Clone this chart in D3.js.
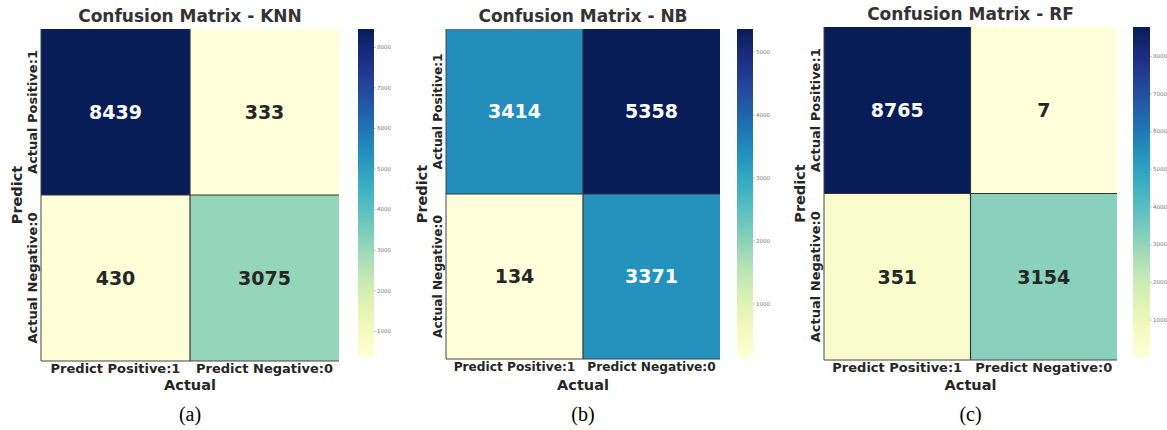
<!DOCTYPE html>
<html>
<head>
<meta charset="utf-8">
<script src="https://cdn.jsdelivr.net/npm/d3@7"></script>
<style>
  body { margin: 0; background: #fff; }
  svg { display: block; }
  .tick-lbl text { font-family: "DejaVu Sans", sans-serif; font-weight: bold; fill: #262626; }
</style>
</head>
<body>
<div id="chart"></div>
<script>
// data
const models = ["KNN", "NB", "RF"];
const panelTags = ["(a)", "(b)", "(c)"];
const predictLabels = ["Predict Positive:1", "Predict Negative:0"];
const actualLabels = ["Actual Positive:1", "Actual Negative:0"];
const knnMatrix = [[8439, 333], [430, 3075]];
const nbMatrix = [[3414, 5358], [134, 3371]];
const rfMatrix = [[8765, 7], [351, 3154]];
const knnBarTicks = [1000, 2000, 3000, 4000, 5000, 6000, 7000, 8000];
const nbBarTicks = [1000, 2000, 3000, 4000, 5000];
const rfBarTicks = [1000, 2000, 3000, 4000, 5000, 6000, 7000, 8000];

const WIDTH = 1167, HEIGHT = 430;
const FONT = '"DejaVu Sans", sans-serif';

// layout of each panel (pixel boxes)
const layout = [
  { hm: [41, 339, 29, 361], cb: [358, 374, 29, 358], fs: 13 },
  { hm: [446, 720, 29, 359], cb: [737, 753, 29, 358], fs: 12.2 },
  { hm: [824, 1117, 27, 360], cb: [1133, 1150, 27, 357], fs: 13 }
];
const matrices = [knnMatrix, nbMatrix, rfMatrix];
const barTicks = [knnBarTicks, nbBarTicks, rfBarTicks];

const svg = d3.select('#chart').append('svg')
  .attr('width', WIDTH)
  .attr('height', HEIGHT);

const defs = svg.append('defs');

models.forEach((name, i) => drawPanel(i, name));

function drawPanel(i, name) {
  const L = layout[i];
  const m = matrices[i];
  const [x0, x1, y0, y1] = L.hm;
  const flat = m.flat();
  const lo = d3.min(flat), hi = d3.max(flat);
  const color = d3.scaleSequential(d3.interpolateYlGnBu).domain([lo, hi]);

  const g = svg.append('g');

  const x = d3.scaleBand().domain(predictLabels).range([x0, x1]);
  const y = d3.scaleBand().domain(actualLabels).range([y0, y1]);

  const cells = [];
  m.forEach((row, r) => row.forEach((v, c) => cells.push({ r, c, v })));

  g.selectAll('rect.cell')
    .data(cells)
    .enter()
    .append('rect')
    .attr('class', 'cell')
    .attr('x', d => x(predictLabels[d.c]))
    .attr('y', d => y(actualLabels[d.r]))
    .attr('width', x.bandwidth())
    .attr('height', y.bandwidth())
    .attr('fill', d => color(d.v));

  // dividers between cells
  const midX = x(predictLabels[1]), midY = y(actualLabels[1]);
  g.append('line').attr('x1', midX).attr('x2', midX).attr('y1', y0).attr('y2', y1)
    .attr('stroke', '#333').attr('stroke-width', 1.2);
  g.append('line').attr('x1', x0).attr('x2', x1).attr('y1', midY).attr('y2', midY)
    .attr('stroke', '#333').attr('stroke-width', 1.2);
  // left and bottom spines
  g.append('line').attr('x1', x0).attr('x2', x0).attr('y1', y0).attr('y2', y1)
    .attr('stroke', '#444').attr('stroke-width', 1);
  g.append('line').attr('x1', x0).attr('x2', x1).attr('y1', y1).attr('y2', y1)
    .attr('stroke', '#444').attr('stroke-width', 1);

  // cell annotations
  g.selectAll('text.val')
    .data(cells)
    .enter()
    .append('text')
    .attr('class', 'val')
    .attr('x', d => x(predictLabels[d.c]) + x.bandwidth() / 2)
    .attr('y', d => y(actualLabels[d.r]) + y.bandwidth() / 2)
    .attr('dy', '0.36em')
    .attr('text-anchor', 'middle')
    .style('font-family', FONT)
    .style('font-weight', 'bold')
    .style('font-size', '19px')
    .attr('fill', d => {
      const l = d3.hsl(color(d.v)).l;
      return l < 0.5 ? '#ffffff' : '#262626';
    })
    .text(d => d.v);

  // axes
  const xAxis = g.append('g')
    .attr('class', 'tick-lbl')
    .attr('transform', `translate(0,${y1})`)
    .call(d3.axisBottom(x).tickSize(0).tickPadding(3));
  xAxis.select('.domain').remove();
  xAxis.selectAll('text').style('font-size', L.fs + 'px');

  const yAxis = g.append('g')
    .attr('class', 'tick-lbl')
    .attr('transform', `translate(${x0},0)`)
    .call(d3.axisLeft(y).tickSize(0));
  yAxis.select('.domain').remove();
  yAxis.selectAll('text')
    .style('font-size', L.fs + 'px')
    .attr('text-anchor', 'middle')
    .attr('transform', 'rotate(-90)')
    .attr('x', 0)
    .attr('y', -4)
    .attr('dy', '0');

  const cx = (x0 + x1) / 2, cy = (y0 + y1) / 2;

  g.append('text')
    .attr('x', cx).attr('y', 385)
    .attr('dy', '0.36em')
    .attr('text-anchor', 'middle')
    .style('font-family', FONT).style('font-weight', 'bold').style('font-size', '14.5px')
    .attr('fill', '#262626')
    .text('Actual');

  g.append('text')
    .attr('transform', `translate(${x0 - 19},${cy}) rotate(-90)`)
    .attr('text-anchor', 'middle')
    .style('font-family', FONT).style('font-weight', 'bold').style('font-size', '14.5px')
    .attr('fill', '#262626')
    .text('Predict');

  g.append('text')
    .attr('x', cx).attr('y', y0 - 7)
    .attr('text-anchor', 'middle')
    .style('font-family', FONT).style('font-weight', 'bold').style('font-size', '17px')
    .attr('fill', '#333')
    .text('Confusion Matrix - ' + name);

  g.append('text')
    .attr('x', cx).attr('y', 421)
    .attr('text-anchor', 'middle')
    .style('font-family', '"Liberation Serif", serif').style('font-size', '20px')
    .attr('fill', '#000')
    .text(panelTags[i]);

  // colorbar
  const [c0, c1, cb0, cb1] = L.cb;
  const gradId = 'grad' + i;
  const grad = defs.append('linearGradient')
    .attr('id', gradId)
    .attr('x1', 0).attr('x2', 0).attr('y1', 1).attr('y2', 0);
  d3.range(0, 1.0001, 0.05).forEach(t => {
    grad.append('stop')
      .attr('offset', t)
      .attr('stop-color', color(lo + t * (hi - lo)));
  });
  g.append('rect')
    .attr('x', c0).attr('y', cb0)
    .attr('width', c1 - c0).attr('height', cb1 - cb0)
    .attr('fill', `url(#${gradId})`);

  const cs = d3.scaleLinear().domain([lo, hi]).range([cb1, cb0]);
  const cAxis = g.append('g')
    .attr('transform', `translate(${c1},0)`)
    .call(d3.axisRight(cs).tickValues(barTicks[i]).tickSize(1.5).tickPadding(1.5).tickFormat(d3.format('d')));
  cAxis.select('.domain').remove();
  cAxis.selectAll('line').attr('stroke', '#777').attr('stroke-width', 0.6);
  cAxis.selectAll('text')
    .style('font-family', FONT)
    .style('font-size', '5.5px')
    .attr('fill', '#777');
}
</script>
</body>
</html>
